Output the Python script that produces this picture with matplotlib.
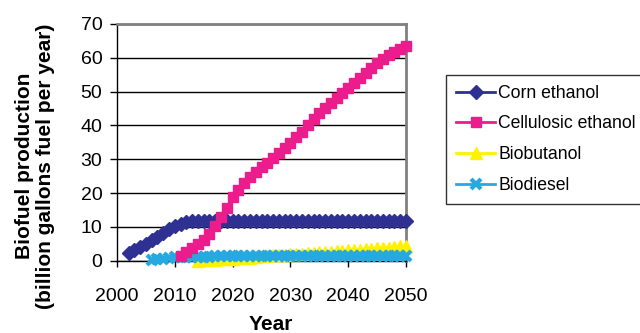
import matplotlib
matplotlib.use('Agg')
import matplotlib.pyplot as plt

plt.rcParams['font.family'] = ['Liberation Sans', 'DejaVu Sans']

# values, one per year
corn_years = list(range(2002, 2051))
corn = [2.3, 3.2, 4.0, 5.0, 6.0, 7.0, 8.2, 9.4, 10.3, 10.9, 11.3, 11.6] + [11.8] * 37

cell_years = list(range(2011, 2051))
cellulosic = [1.5, 2.5, 3.7, 4.9, 6.1, 8.0, 10.3, 12.8, 15.6, 18.8,
              21.0, 23.0, 24.8, 26.3, 27.7, 29.0, 30.4, 31.8, 33.3, 34.8,
              36.5, 38.2, 40.0, 41.8, 43.7, 45.2, 46.7, 48.2, 49.7, 51.1,
              52.6, 54.1, 55.6, 57.1, 58.5, 59.7, 60.7, 61.7, 62.6, 63.5]

buta_years = list(range(2014, 2051))
biobutanol = [0.0, 0.1, 0.2, 0.3, 0.4, 0.5, 0.6, 0.7, 0.8, 0.9,
              1.1, 1.3, 1.5, 1.6, 1.7, 1.8, 1.9, 2.0, 2.1, 2.2,
              2.3, 2.5, 2.6, 2.7, 2.8, 2.9, 3.1, 3.2, 3.3, 3.5,
              3.6, 3.7, 3.8, 3.9, 4.0, 4.2, 4.3]

dies_years = list(range(2006, 2051))
biodiesel = [0.3, 0.5, 0.6, 0.8, 1.0, 1.0, 1.1, 1.1, 1.2, 1.2,
             1.2, 1.3, 1.3, 1.3, 1.3, 1.4, 1.4, 1.4, 1.4, 1.4] + [1.5] * 25

fig = plt.figure(figsize=(6.4, 3.33), dpi=100)
ax = fig.add_axes([117/640, 1 - 260.7/333, (406-117)/640, (260.7-24)/333])

ax.plot(corn_years, corn, color='#2E3192', marker='D', ms=7, lw=2,
        label='Corn ethanol', clip_on=False, zorder=3)
ax.plot(cell_years, cellulosic, color='#EC1C8C', marker='s', ms=7.5, lw=2,
        label='Cellulosic ethanol', clip_on=False, zorder=4)
ax.plot(buta_years, biobutanol, color='#FFF200', marker='^', ms=8, lw=2,
        label='Biobutanol', clip_on=False, zorder=3)
ax.plot(dies_years, biodiesel, color='#26A9E0', marker='x', ms=7, mew=3, lw=2,
        label='Biodiesel', clip_on=False, zorder=3)

ax.set_xlim(2000, 2050)
ax.set_ylim(0, 70)
ax.set_xticks(range(2000, 2051, 10))
ax.set_yticks(range(0, 71, 10))
ax.yaxis.grid(True, color='black', lw=1)
ax.set_axisbelow(True)
ax.tick_params(axis='x', labelsize=14, length=4.5, width=1, color='black', pad=15)
ax.tick_params(axis='y', labelsize=14, length=5, width=1, color='black', pad=5.5)

for s in ['top', 'right']:
    ax.spines[s].set_color('#808080')
    ax.spines[s].set_linewidth(2)
for s in ['left', 'bottom']:
    ax.spines[s].set_color('black')
    ax.spines[s].set_linewidth(1)

fig.text(271/640, 1 - 324/333, 'Year', fontsize=15, fontweight='bold',
         ha='center', va='center')
fig.text(35/640, 1 - 166/333, 'Biofuel production\n(billion gallons fuel per year)',
         fontsize=15, fontweight='bold', linespacing=1.2, rotation=90,
         ha='center', va='center', multialignment='center')

leg = fig.legend(loc='upper left', bbox_to_anchor=(446/640, 1 - 75/333),
                 fontsize=12.7, frameon=True, fancybox=False, handlelength=2.25,
                 labelspacing=0.78, borderaxespad=0, borderpad=0.55, handletextpad=0.15)
leg.get_frame().set_edgecolor('black')
leg.get_frame().set_linewidth(1)

fig.savefig('out.png', dpi=100)
